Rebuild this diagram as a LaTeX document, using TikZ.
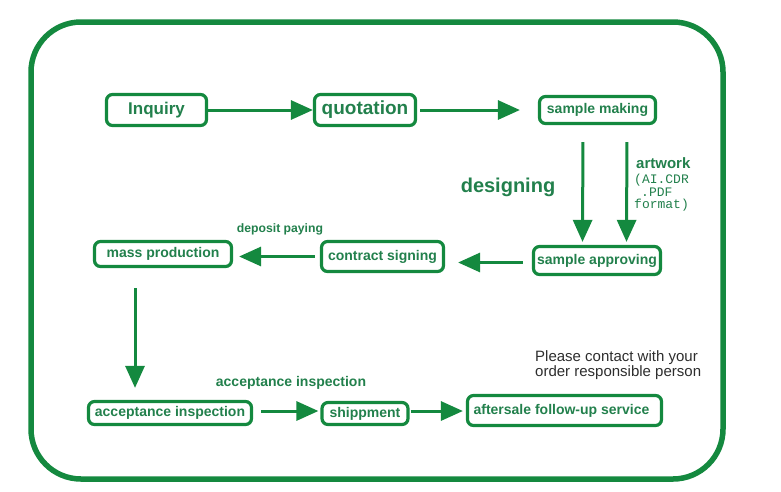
\documentclass[tikz,border=0pt]{standalone}
\usepackage{fontspec}
\setmainfont{Liberation Sans}
\newfontfamily\monof{Liberation Mono}
\usetikzlibrary{arrows.meta}
\definecolor{gline}{RGB}{20,137,63}
\definecolor{gtext}{RGB}{34,128,76}
\definecolor{dgray}{RGB}{45,45,45}
\tikzset{
  stepbox/.style={draw=gline, line width=3.2pt, rounded corners=6pt, inner sep=0pt,
    text=gtext, font=\bfseries\fontsize{14}{16}\selectfont},
  flow/.style={draw=gline, line width=3pt, -{Triangle[length=22pt,width=19pt]}},
  glabel/.style={text=gtext, font=\bfseries, inner sep=0pt},
}
\begin{document}
\begin{tikzpicture}[x=1pt,y=-1pt]
\useasboundingbox (0,0) rectangle (781,491);
% outer frame
\draw[gline, line width=5.5pt, rounded corners=50pt] (31,22) rectangle (723,479);

% boxes
\node[stepbox, minimum width=100pt, minimum height=31pt, font=\bfseries\fontsize{17}{19}\selectfont] (inq) at (156.5,110) {\raisebox{-1pt}{Inquiry}};
\node[stepbox, minimum width=101pt, minimum height=31pt, font=\bfseries\fontsize{19}{21}\selectfont] (quo) at (365,110) {\raisebox{-1pt}{quotation}};
\node[stepbox, minimum width=116pt, minimum height=27pt] (smk) at (597.5,110) {\raisebox{-1pt}{sample making}};
\node[stepbox, minimum width=127pt, minimum height=28pt] (sap) at (597,260.5) {\raisebox{-1pt}{sample approving}};
\node[stepbox, minimum width=122pt, minimum height=30pt] (con) at (382.5,256.5) {\raisebox{-1pt}{contract signing}};
\node[stepbox, minimum width=137pt, minimum height=25pt] (mas) at (163,254) {\raisebox{-1pt}{mass production}};
\node[stepbox, minimum width=163pt, minimum height=23pt] (acc) at (170,413) {\raisebox{-1pt}{acceptance inspection}};
\node[stepbox, minimum width=86pt, minimum height=22pt] (shp) at (365,413.5) {\raisebox{-1pt}{shippment}};
\node[stepbox, minimum width=194pt, minimum height=30pt] (aft) at (564.5,410.5) {\hspace*{-6pt}aftersale follow-up service};

% connectors
\draw[flow] (inq.east) -- (quo.west);
\draw[flow, shorten <=3pt, shorten >=18pt] (quo.east) -- (smk.west);
\draw[flow, shorten <=17pt, shorten >=3pt] ([xshift=-14.5pt]smk.south) -- ([xshift=-14.5pt]sap.north);
\draw[flow, shorten <=17pt, shorten >=3pt] ([xshift=29.5pt]smk.south) -- ([xshift=29.5pt]sap.north);
\draw[flow, shorten <=9pt, shorten >=13pt] ([yshift=-2pt]sap.west) -- ([yshift=-2pt]sap.west -| con.east);
\draw[flow, shorten <=5pt, shorten >=6pt] (con.west) -- (con.west -| mas.east);
\draw[flow, shorten <=20pt, shorten >=12pt] ([xshift=-28pt]mas.south) -- ([xshift=-28pt]mas.south |- acc.north);
\draw[flow, shorten <=8pt, shorten >=2pt] ([yshift=2pt]acc.east) -- ([yshift=2pt]acc.east -| shp.west);
\draw[flow, shorten <=1pt, shorten >=3pt] ([yshift=2.5pt]shp.east) -- ([yshift=2.5pt]shp.east -| aft.west);

% labels
\node[glabel, font=\bfseries\fontsize{20}{22}\selectfont] (des) at (508,187) {designing};
\node[glabel, anchor=west, font=\bfseries\fontsize{15}{17}\selectfont] (art) at (636,163) {artwork};
\node[glabel, anchor=north west, align=left, font=\monof\fontsize{13}{12.5}\selectfont] (fmt) at (634,174) {(AI.CDR\\\hspace*{7pt}.PDF\\format)};
\node[glabel, font=\bfseries\fontsize{12.2}{14}\selectfont] (dep) at (280,229) {deposit paying};
\node[glabel, font=\bfseries\fontsize{14}{16}\selectfont] (acl) at (291,383) {acceptance inspection};
\node[text=dgray, inner sep=0pt, anchor=west, align=left, font=\fontsize{15}{14.6}\selectfont] (note) at (535,365) {Please contact with your\\order responsible person};
\end{tikzpicture}
\end{document}
